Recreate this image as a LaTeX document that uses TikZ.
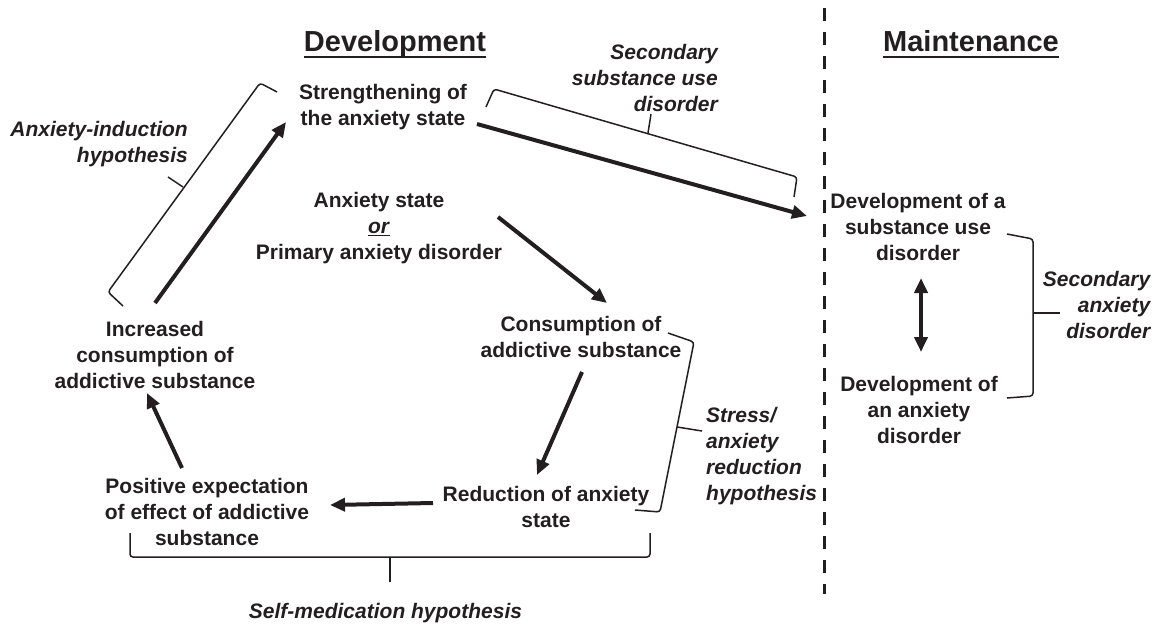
\documentclass[tikz,border=0pt]{standalone}
\usepackage{fontspec}
\setmainfont{Liberation Sans}
\usetikzlibrary{arrows.meta}
\definecolor{ink}{HTML}{231F20}
\begin{document}
\begin{tikzpicture}[x=1pt,y=-1pt,
  every node/.style={text=ink, inner sep=0pt},
  box/.style={align=center, font=\fontsize{21}{26}\selectfont\bfseries},
  hyp/.style={font=\fontsize{21}{26}\selectfont\bfseries\itshape},
  heading/.style={font=\fontsize{29}{34}\selectfont\bfseries, anchor=base},
  uline/.style={draw=ink, line width=2.5pt},
  arr/.style={draw=ink, line width=4pt, -{Triangle[length=15pt,width=13pt]}},
  dblarr/.style={draw=ink, line width=4pt, {Triangle[length=15pt,width=13pt]}-{Triangle[length=15pt,width=13pt]}},
  bracket/.style={draw=ink, line width=1.5pt, rounded corners=3pt},
  divider/.style={draw=ink, line width=3pt, dash pattern=on 13pt off 11pt},
]
\useasboundingbox (0,0) rectangle (1159,625);

% headings
\node[heading] (dev) at (395,51) {Development};
\node[heading] (mnt) at (971,51) {Maintenance};
\draw[uline] ([shift={(0,6)}]dev.base west) -- ([shift={(0,6)}]dev.base east);
\draw[uline] ([shift={(0,6)}]mnt.base west) -- ([shift={(0,6)}]mnt.base east);

% divider between the two phases
\coordinate (divtop) at (824,8);
\coordinate (divbot) at (824,594);
\draw[divider] (divtop) -- (divbot);

% stages of the cycle
\node[box] (str) at (383,107.5) {Strengthening of\\the anxiety state};
\node[box] (anx) at (379,228.5) {Anxiety state\\\underline{\textit{or}}\\Primary anxiety disorder};
\node[box] (cons) at (581,336.5) {Consumption of\\addictive substance};
\node[box] (red) at (546,507.3) {Reduction of anxiety\\state};
\node[box] (pos) at (207,511.5) {Positive expectation\\of effect of addictive\\substance};
\node[box] (inc) at (155,355.4) {Increased\\consumption of\\addictive substance};
\node[box] (dsud) at (918,226.8) {Development of a\\substance use\\disorder};
\node[box] (danx) at (919,409.7) {Development of\\an anxiety\\disorder};

% hypotheses
\node[hyp, align=right, anchor=east] (aih) at (188,143.7) {Anxiety-induction\\hypothesis};
\node[hyp, align=right, anchor=east] (ssud) at (718,78.2) {Secondary\\substance use\\disorder};
\node[hyp, align=right, anchor=east] (sad) at (1150.5,305) {Secondary\\anxiety\\disorder};
\node[hyp, align=left, anchor=west] (sarh) at (706,456.5) {Stress/\\anxiety\\reduction\\hypothesis};
\node[hyp] (smh) at (385.5,612.8) {Self-medication hypothesis};

% arrows
\draw[arr] ([shift={(0,-52.4)}]inc.center) -- ([shift={(-97,14.5)}]str.center);
\draw[arr] ([shift={(94,16.5)}]str.center) -- ([shift={(-111,-10.8)}]dsud.center);
\draw[arr] ([shift={(119,-11.5)}]anx.center) -- ([shift={(26,-33.5)}]cons.center);
\draw[arr] ([shift={(1,35.5)}]cons.center) -- ([shift={(-9,-32.3)}]red.center);
\draw[arr] ([shift={(-113,-4.3)}]red.center) -- ([shift={(123,-6.5)}]pos.center);
\draw[arr] ([shift={(-25,-43.5)}]pos.center) -- ([shift={(-8,37.6)}]inc.center);
\draw[dblarr] ([shift={(3,51.2)}]dsud.center) -- ([shift={(2,-57.7)}]danx.center);

% brackets
\draw[bracket] (123,306) -- (108,292) -- (260,83) -- (277,92);
\draw[bracket] (183,187) -- (168,177);
\draw[bracket] (486,107) -- (494,89) -- (797,177) -- (794,197);
\draw[bracket] (648,133) -- (651,114);
\draw[bracket] (668,333) -- (694,342) -- (660,512) -- (635,510);
\draw[bracket] (677,427) -- (702,431);
\draw[bracket] (130,533) -- (130,557) -- (650,557) -- (650,533);
\draw[bracket] (390,557) -- (390,582);
\draw[bracket] (1007,234) -- (1033,239) -- (1033,396) -- (1007,398);
\draw[bracket] (1033,313) -- (1060,313);
\end{tikzpicture}
\end{document}
